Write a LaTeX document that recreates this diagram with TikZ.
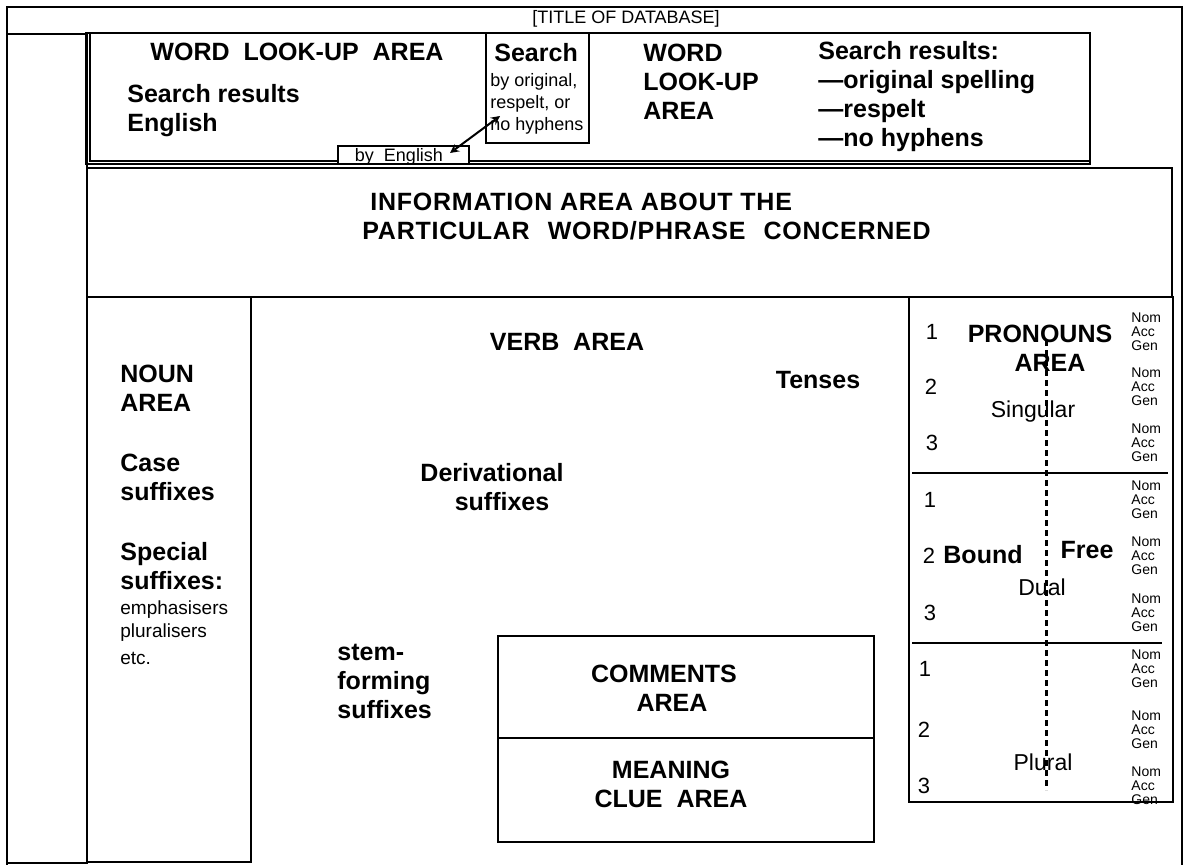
\documentclass[tikz,border=0pt]{standalone}
\usepackage{fontspec}
\setmainfont{Liberation Sans}
\tikzset{
    area/.style={draw, line width=0.9pt},
    head/.style={font=\bfseries\fontsize{12.5}{14.5}\selectfont, inner sep=0pt, align=left},
    note/.style={font=\fontsize{9}{11}\selectfont, inner sep=0pt, align=left},
    person/.style={font=\fontsize{11}{13}\selectfont, inner sep=0pt},
    number/.style={font=\fontsize{11.5}{13}\selectfont, inner sep=0pt},
    cases/.style={font=\fontsize{7}{7}\selectfont, inner sep=0pt, align=left, anchor=west},
}
\begin{document}
\begin{tikzpicture}[x=0.5pt, y=-0.5pt]
    \useasboundingbox (0,0) rectangle (1187,864);
    \draw[area] (7,7) rectangle (1182,880);
    \draw[area] (7,34) rectangle (87,863);
    \draw[area] (86,33) rectangle (1090,164);
    \draw[area] (90,33) -- (90,161) -- (1090,161);
    \draw[area] (486,33) rectangle (589,143);
    \draw[area] (87,168) rectangle (1172,297);
    \draw[area] (87,297) rectangle (251,862);
    \draw[area] (909,297) rectangle (1173,802);
    \draw[area] (912,473) -- (1168,473);
    \draw[area] (912,643) -- (1162,643);
    \draw[area] (498,636) rectangle (874,842);
    \draw[area] (498,738) -- (874,738);
    \draw[area, fill=white] (338,146) rectangle (469,164);

    \node[note] (title) at (626,19) {[TITLE OF DATABASE]};
    \node[head] (lookup) at (297,52) {WORD\ \ LOOK-UP\ \ AREA};
    \node[head, anchor=west] (results) at (127,111) {Search results\\English};
    \node[head, anchor=west] (search) at (494,53) {Search};
    \node[note, anchor=west] (byorig) at (490,104) {by original,\\respelt, or\\no hyphens};
    \node[note] (byeng) at (399,157) {by\ \ English};
    \node[head, anchor=west] (wordlu) at (643,82) {WORD\\LOOK-UP\\AREA};
    \node[head, anchor=west] (spelling) at (818,97) {Search results:\\—original spelling\\—respelt\\—no hyphens};
    \coordinate (tipA) at (450,153);
    \coordinate (tipB) at (500,116);
    \draw[line width=1pt, stealth-stealth] (tipA) -- (tipB);

    \node[head, anchor=west, font=\bfseries\fontsize{12.5}{14.5}\selectfont\addfontfeatures{LetterSpace=3}] (info) at (362,217) {\hspace*{4pt}INFORMATION\ AREA\ ABOUT\ THE\\PARTICULAR\hspace{9pt}WORD/PHRASE\hspace{9pt}CONCERNED};

    \node[head, anchor=west] (noun) at (120,388) {NOUN\\AREA};
    \node[head, anchor=west] (casesuf) at (120,477) {Case\\suffixes};
    \node[head, anchor=west] (special) at (120,566) {Special\\suffixes:};
    \node[note, anchor=west, font=\fontsize{9.5}{11.5}\selectfont] (emph) at (120,633) {emphasisers\\pluralisers\\[2pt]etc.};

    \node[head] (verb) at (567,342) {VERB\ \ AREA};
    \node[head] (tenses) at (818,380) {Tenses};
    \node[head, align=center] (deriv) at (492,487) {Derivational\\\hspace*{10pt}suffixes};
    \node[head, anchor=west] (stem) at (337,681) {stem-\\forming\\suffixes};
    \node[head, align=center] (comments) at (664,688) {COMMENTS\\\hspace*{8pt}AREA};
    \node[head, align=center] (clue) at (671,784) {MEANING\\CLUE\ \ AREA};

    \node[head, align=center] (pronouns) at (1040,348) {PRONOUNS\\\hspace*{10pt}AREA};
    \node[number] (sing) at (1033,412) {Singular};
    \node[number] (dual) at (1042,587) {Dual};
    \node[number] (plur) at (1043,762) {Plural};
    \node[head] (bound) at (983,555) {Bound};
    \node[head] (free) at (1087,550) {Free};
    \foreach \x/\y/\n [count=\i] in {932/332/1,931/387/2,932/443/3,930/500/1,929/556/2,930/613/3,925/669/1,924/730/2,924/786/3} {
        \node[person] (p\i) at (\x,\y) {\n};
        \node[cases] (c\i) at (1131,\y) {Nom\\Acc\\Gen};
    }
    \draw[line width=1.5pt, dash pattern=on 3pt off 2pt] (1046,340) -- (1046,790);
\end{tikzpicture}
\end{document}
